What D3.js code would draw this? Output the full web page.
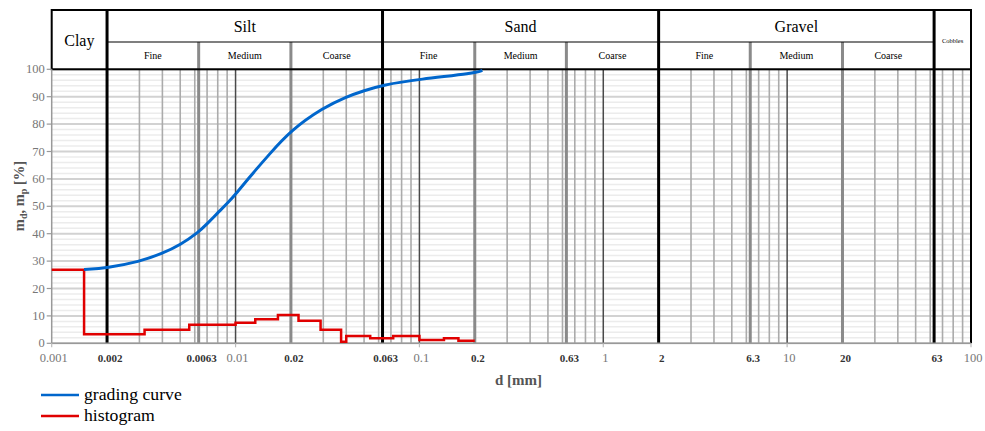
<!DOCTYPE html>
<html><head><meta charset="utf-8">
<script src="https://cdn.jsdelivr.net/npm/d3@7"></script>
<style>body{margin:0;background:#fff}svg{display:block}text{font-family:"Liberation Serif","Times New Roman",serif}</style>
</head><body>
<svg id="c" width="985" height="431"></svg>
<script>
// ---- data ----
const curveD = [0.0015,0.002,0.003,0.004,0.005,0.0063,0.007,0.008,0.009,0.01,0.0125,0.015,0.02,0.03,0.04,0.05,0.063,0.1,0.2,0.22];
const curveV = [26.9,27.5,29.8,32.8,35.9,40.6,43.6,47.6,51.0,54.4,62.3,68.4,77.8,86.0,90.0,92.2,94.3,96.4,98.6,99.6];
const histD = [0.001,0.0015,0.0032,0.0056,0.01,0.0128,0.017,0.022,0.029,0.0375,0.04,0.054,0.072,0.1,0.136,0.163,0.2];
const histV = [26.8,3.3,4.9,6.8,7.5,8.8,10.3,8.2,4.9,0.6,2.7,1.8,2.7,1.2,1.8,0.95];
const mainBounds = [0.002,0.063,2,63];
const subBounds = [0.0063,0.02,0.2,0.63,6.3,20];
const decadeTicks = [0.001,0.01,0.1,1,10,100];
const decadeLabels = ["0.001","0.01","0.1","1","10","100"];
const boldTicks = [0.002,0.0063,0.02,0.063,0.2,0.63,2,6.3,20,63];
const boldLabels = ["0.002","0.0063","0.02","0.063","0.2","0.63","2","6.3","20","63"];
const yTicks = [0,10,20,30,40,50,60,70,80,90,100];
const mainGroups = [{n:"Clay",a:0.001,b:0.002},{n:"Silt",a:0.002,b:0.063},{n:"Sand",a:0.063,b:2},{n:"Gravel",a:2,b:63},{n:"Cobbles",a:63,b:100}];
const subNames = ["Fine","Medium","Coarse"];

const svg = d3.select("#c");
const x = d3.scaleLog().domain([0.001,100]).range([51.7,971]);
const y = d3.scaleLinear().domain([0,100]).range([343.3,69.3]);

// horizontal grid
const g = svg.append("g");
for (let v=0; v<=100; v+=2) {
  const major = v%10===0;
  g.append("line").attr("x1",x(0.001)).attr("x2",x(100)).attr("y1",y(v)).attr("y2",y(v))
   .attr("stroke",major?"#d2d2d2":"#ececec").attr("stroke-width",major?2:1.5);
}
// minor vertical lines
const minors=[];
for (let k=-3;k<=1;k++) for (let m=3;m<=9;m++) minors.push(m*Math.pow(10,k));
minors.forEach(d=>g.append("line").attr("x1",x(d)).attr("x2",x(d)).attr("y1",y(0)).attr("y2",y(100))
  .attr("stroke","#ababab").attr("stroke-width",1.6));
// decade lines
[0.01,0.1,1,10].forEach(d=>g.append("line").attr("x1",x(d)).attr("x2",x(d)).attr("y1",y(0)).attr("y2",y(100))
  .attr("stroke","#4a4a4a").attr("stroke-width",1.5));
// sub-boundaries
subBounds.forEach(d=>g.append("line").attr("x1",x(d)).attr("x2",x(d)).attr("y1",42).attr("y2",y(0))
  .attr("stroke","#8a8a8a").attr("stroke-width",3));

// header box
const hg = svg.append("g");
hg.append("rect").attr("x",x(0.001)).attr("y",10).attr("width",x(100)-x(0.001)).attr("height",59.3)
  .attr("fill","none").attr("stroke","#000").attr("stroke-width",2);
hg.append("line").attr("x1",x(0.002)).attr("x2",x(63)).attr("y1",42).attr("y2",42).attr("stroke","#000").attr("stroke-width",1.2);
mainBounds.forEach(d=>g.append("line").attr("x1",x(d)).attr("x2",x(d)).attr("y1",10).attr("y2",y(0))
  .attr("stroke","#000").attr("stroke-width",3));
g.append("line").attr("x1",x(100)).attr("x2",x(100)).attr("y1",10).attr("y2",y(0)).attr("stroke","#000").attr("stroke-width",2);

// header text
mainGroups.forEach(gr=>{
  const cx=(x(gr.a)+x(gr.b))/2;
  if (gr.n==="Clay") hg.append("text").attr("x",cx).attr("y",46).attr("text-anchor","middle").attr("font-size",16).text(gr.n);
  else if (gr.n==="Cobbles") hg.append("text").attr("x",cx).attr("y",43).attr("text-anchor","middle").attr("font-size",6.5).text(gr.n);
  else {
    hg.append("text").attr("x",cx).attr("y",32).attr("text-anchor","middle").attr("font-size",16).text(gr.n);
    const sb = subBounds.filter(s=>s>gr.a && s<gr.b);
    const e=[gr.a, sb[0], sb[1], gr.b];
    subNames.forEach((n,i)=>hg.append("text").attr("x",(x(e[i])+x(e[i+1]))/2).attr("y",59).attr("text-anchor","middle")
      .attr("font-size",10).text(n));
  }
});

// axes
const ag = svg.append("g");
ag.append("line").attr("x1",x(0.001)).attr("x2",x(0.001)).attr("y1",y(0)).attr("y2",y(100)).attr("stroke","#999").attr("stroke-width",1.5);
ag.append("line").attr("x1",x(0.001)).attr("x2",x(100)).attr("y1",y(0)).attr("y2",y(0)).attr("stroke","#999").attr("stroke-width",1.5);
yTicks.forEach(v=>{
  ag.append("line").attr("x1",x(0.001)-5).attr("x2",x(0.001)).attr("y1",y(v)).attr("y2",y(v)).attr("stroke","#999").attr("stroke-width",1.2);
  ag.append("text").attr("x",x(0.001)-7).attr("y",y(v)+4).attr("text-anchor","end")
    .attr("font-size",12.5).attr("fill","#777").text(v);
});
decadeTicks.forEach((d,i)=>{
  ag.append("line").attr("x1",x(d)).attr("x2",x(d)).attr("y1",y(0)).attr("y2",y(0)+4).attr("stroke","#bbb").attr("stroke-width",1.2);
  ag.append("text").attr("x",x(d)+2).attr("y",362).attr("text-anchor","middle")
    .attr("font-size",12.5).attr("fill","#777").text(decadeLabels[i]);
});
boldTicks.forEach((d,i)=>{
  ag.append("text").attr("x",x(d)+3).attr("y",362).attr("text-anchor","middle")
    .attr("font-size",11).attr("font-weight","bold").attr("fill","#333").text(boldLabels[i]);
});
ag.append("text").attr("x",518.5).attr("y",385).attr("text-anchor","middle")
  .attr("font-size",15).attr("font-weight","bold").attr("fill","#555").text("d [mm]");
const yl = ag.append("text").attr("transform","translate(24,196) rotate(-90)").attr("text-anchor","middle")
  .attr("font-size",14.5).attr("font-weight","bold").attr("fill","#555");
yl.append("tspan").text("m");
yl.append("tspan").attr("font-size",10).attr("dy",3).text("d");
yl.append("tspan").attr("dy",-3).text(", m");
yl.append("tspan").attr("font-size",10).attr("dy",3).text("p");
yl.append("tspan").attr("dy",-3).text(" [%]");

// histogram
const histPts = histD.map((d,i)=>[d, i<histV.length?histV[i]:histV[histV.length-1]]);
svg.append("path").datum(histPts)
  .attr("d",d3.line().x(p=>x(p[0])).y(p=>y(p[1])).curve(d3.curveStepAfter))
  .attr("fill","none").attr("stroke","#e00000").attr("stroke-width",2.5);
// grading curve
svg.append("path").datum(curveD.map((d,i)=>[d,curveV[i]]))
  .attr("d",d3.line().x(p=>x(p[0])).y(p=>y(p[1])).curve(d3.curveBasis))
  .attr("fill","none").attr("stroke","#0066cc").attr("stroke-width",3);

// legend
const lg = svg.append("g");
[["grading curve","#0066cc",395],["histogram","#e00000",416]].forEach(([t,c,yy])=>{
  lg.append("line").attr("x1",41).attr("x2",79).attr("y1",yy).attr("y2",yy).attr("stroke",c).attr("stroke-width",2.5);
  lg.append("text").attr("x",84).attr("y",yy+5).attr("font-size",17.7).attr("fill","#000").text(t);
});
</script>
</body></html>
